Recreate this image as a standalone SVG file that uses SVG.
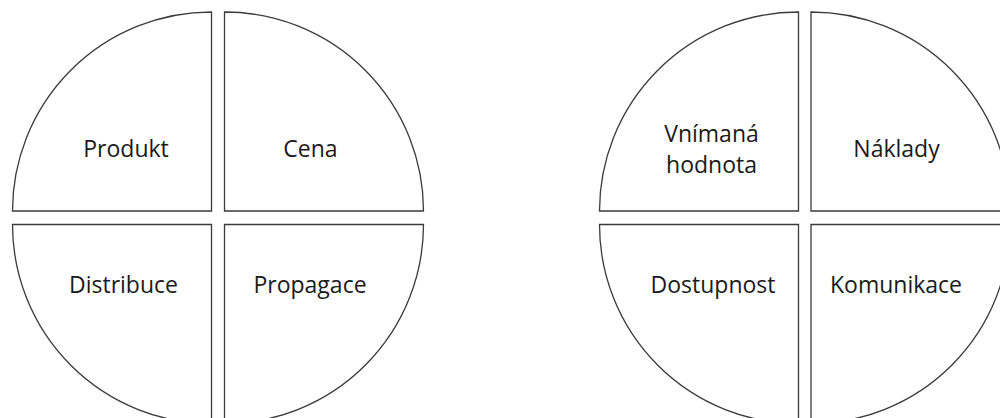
<svg xmlns="http://www.w3.org/2000/svg" xmlns:xlink="http://www.w3.org/1999/xlink" width="1000" height="418" viewBox="0 0 1000 418">
  <defs>
    <style>
      .q { fill: #ffffff; stroke: #3a3a3a; stroke-width: 1.3; }
      .lbl { font-family: "Open Sans", "Liberation Sans", sans-serif; font-size: 23px; fill: #1a1a1a; text-anchor: middle; }
    </style>
    <!-- quarter-circle segments, corner at origin, radius 199 -->
    <path id="qTL" d="M0,0 H-199 A199,199 0 0 1 0,-199 Z"/>
    <path id="qTR" d="M0,0 V-199 A199,199 0 0 1 199,0 Z"/>
    <path id="qBL" d="M0,0 V199 A199,199 0 0 1 -199,0 Z"/>
    <path id="qBR" d="M0,0 H199 A199,199 0 0 1 0,199 Z"/>
  </defs>
  <rect width="1000" height="418" fill="#ffffff"/>

  <!-- 4P wheel -->
  <g id="produkt">
    <use class="q" href="#qTL" xlink:href="#qTL" transform="translate(211.5,211)"/>
    <text class="lbl" x="126" y="157">Produkt</text>
  </g>
  <g id="cena">
    <use class="q" href="#qTR" xlink:href="#qTR" transform="translate(224.5,211)"/>
    <text class="lbl" x="310.5" y="157">Cena</text>
  </g>
  <g id="distribuce">
    <use class="q" href="#qBL" xlink:href="#qBL" transform="translate(211.5,224.5)"/>
    <text class="lbl" x="123.5" y="293">Distribuce</text>
  </g>
  <g id="propagace">
    <use class="q" href="#qBR" xlink:href="#qBR" transform="translate(224.5,224.5)"/>
    <text class="lbl" x="310" y="293">Propagace</text>
  </g>

  <!-- 4C wheel -->
  <g id="vnimana-hodnota">
    <use class="q" href="#qTL" xlink:href="#qTL" transform="translate(798.5,211)"/>
    <text class="lbl" x="711.5" y="141.5">Vnímaná</text>
    <text class="lbl" x="711.5" y="173">hodnota</text>
  </g>
  <g id="naklady">
    <use class="q" href="#qTR" xlink:href="#qTR" transform="translate(811,211)"/>
    <text class="lbl" x="896.5" y="157">Náklady</text>
  </g>
  <g id="dostupnost">
    <use class="q" href="#qBL" xlink:href="#qBL" transform="translate(798.5,224.5)"/>
    <text class="lbl" x="713" y="293">Dostupnost</text>
  </g>
  <g id="komunikace">
    <use class="q" href="#qBR" xlink:href="#qBR" transform="translate(811,224.5)"/>
    <text class="lbl" x="896" y="293">Komunikace</text>
  </g>

  <g id="connectors"/>
</svg>
